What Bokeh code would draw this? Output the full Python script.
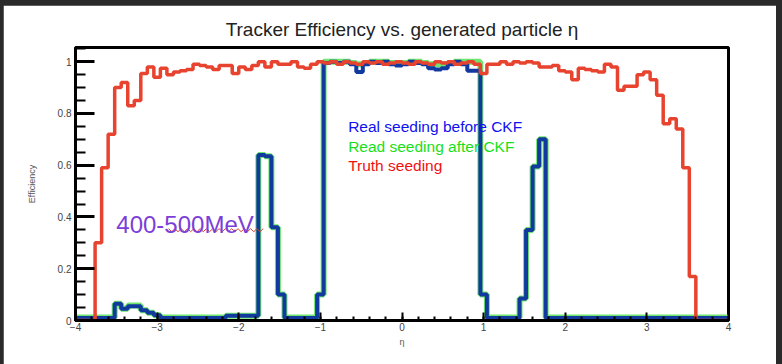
import numpy as np
from bokeh.plotting import figure
from bokeh.models import Label, Range1d, SingleIntervalTicker, NumeralTickFormatter
from bokeh.layouts import column
from bokeh.embed import file_html
from bokeh.resources import INLINE

# eta binning: 100 bins from -4 to 4
eta_edges = np.linspace(-4.0, 4.0, 101)

# Efficiency per eta bin
truth_seeding = [
    0.0, 0.0, 0.0, 0.30, 0.59, 0.72, 0.90, 0.92, 0.83, 0.85,
    0.955, 0.98, 0.94, 0.975, 0.95, 0.96, 0.965, 0.97, 0.99, 0.985,
    0.98, 0.97, 0.985, 0.985, 0.955, 0.98, 0.97, 0.985, 1.0, 0.98,
    1.0, 0.99, 0.99, 1.0, 0.98, 0.975, 0.99, 1.0, 0.995, 1.0,
    0.99, 1.0, 0.995, 0.99, 1.0, 0.995, 1.0, 0.99, 0.995, 1.0,
    0.995, 0.99, 1.0, 0.995, 0.99, 1.0, 0.995, 1.0, 0.99, 0.995,
    1.0, 0.99, 0.955, 0.99, 0.99, 1.0, 0.99, 1.0, 0.995, 1.0,
    0.995, 0.98, 0.98, 0.985, 0.965, 0.96, 0.93, 0.975, 0.97, 0.965,
    0.96, 0.99, 0.98, 0.89, 0.905, 0.905, 0.95, 0.96, 0.93, 0.87,
    0.76, 0.78, 0.74, 0.59, 0.17, 0.0, 0.0, 0.0, 0.0, 0.0,
]

real_before_ckf = [
    0.01, 0.01, 0.01, 0.01, 0.01, 0.01, 0.065, 0.045, 0.055, 0.055,
    0.04, 0.03, 0.02, 0.01, 0.01, 0.01, 0.01, 0.01, 0.01, 0.01,
    0.01, 0.01, 0.01, 0.018, 0.018, 0.018, 0.018, 0.018, 0.64, 0.635,
    0.36, 0.10, 0.01, 0.01, 0.01, 0.01, 0.01, 0.10, 0.995, 1.0,
    0.995, 1.0, 0.99, 0.96, 0.99, 1.0, 0.995, 1.0, 0.99, 0.985,
    0.99, 1.0, 0.995, 0.99, 0.975, 0.97, 0.975, 0.99, 1.0, 0.99,
    0.965, 0.965, 0.10, 0.01, 0.01, 0.01, 0.01, 0.01, 0.085, 0.35,
    0.595, 0.70, 0.01, 0.01, 0.01, 0.01, 0.01, 0.01, 0.01, 0.01,
    0.01, 0.01, 0.01, 0.01, 0.01, 0.01, 0.01, 0.01, 0.01, 0.01,
    0.01, 0.01, 0.01, 0.01, 0.01, 0.01, 0.01, 0.01, 0.01, 0.01,
]

real_after_ckf = [
    0.012, 0.012, 0.012, 0.012, 0.012, 0.012, 0.065, 0.045, 0.058, 0.058,
    0.04, 0.03, 0.02, 0.012, 0.012, 0.012, 0.012, 0.012, 0.012, 0.012,
    0.012, 0.012, 0.012, 0.018, 0.018, 0.018, 0.018, 0.018, 0.64, 0.635,
    0.36, 0.10, 0.012, 0.012, 0.012, 0.012, 0.012, 0.10, 1.0, 1.0,
    1.0, 1.0, 0.995, 0.99, 0.995, 1.0, 1.0, 1.0, 0.995, 0.995,
    0.995, 1.0, 1.0, 0.995, 0.99, 0.99, 0.99, 0.995, 1.0, 1.0,
    1.0, 1.0, 0.10, 0.012, 0.012, 0.012, 0.012, 0.012, 0.085, 0.35,
    0.595, 0.70, 0.012, 0.012, 0.012, 0.012, 0.012, 0.012, 0.012, 0.012,
    0.012, 0.012, 0.012, 0.012, 0.012, 0.012, 0.012, 0.012, 0.012, 0.012,
    0.012, 0.012, 0.012, 0.012, 0.012, 0.012, 0.012, 0.012, 0.012, 0.012,
]

legend_labels = ["Real seeding before CKF", "Read seeding after CKF", "Truth seeding"]
legend_colors = ["#1010f0", "#18e018", "#f01010"]
energy_label = "400-500MeV"

FONT = "Liberation Sans"

p = figure(
    frame_width=653, frame_height=273,
    min_border_left=72, min_border_right=48, min_border_top=42, min_border_bottom=44,
    x_range=Range1d(-4, 4), y_range=Range1d(0, 1.055),
    output_backend="svg", toolbar_location=None,
    background_fill_color="white", border_fill_color="white",
)
p.margin = (5, 6, 0, 3)

p.title.text = "Tracker Efficiency vs. generated particle \u03b7"
p.title.align = "center"
p.title.text_font = FONT
p.title.text_font_size = "19px"
p.title.text_font_style = "normal"
p.title.text_color = "#222222"
p.title.standoff = 15

p.xgrid.visible = False
p.ygrid.visible = False
p.outline_line_color = "black"
p.outline_line_width = 3
p.outline_line_alpha = 1.0

# ROOT-style axes: ticks pointing into the frame
p.xaxis.ticker = SingleIntervalTicker(interval=1, num_minor_ticks=5)
p.yaxis.ticker = SingleIntervalTicker(interval=0.2, num_minor_ticks=4)
p.yaxis.formatter = NumeralTickFormatter(format="0.[0]")
for ax in (p.xaxis[0], p.yaxis[0]):
    ax.axis_line_color = "black"
    ax.axis_line_width = 3
    ax.major_tick_out = 0
    ax.minor_tick_out = 0
    ax.major_tick_line_color = "black"
    ax.minor_tick_line_color = "black"
    ax.major_label_text_font = FONT
    ax.major_label_text_font_size = "10px"
    ax.major_label_text_color = "#444444"
    ax.axis_label_text_font = FONT
    ax.axis_label_text_font_size = "9px"
    ax.axis_label_text_font_style = "normal"
    ax.axis_label_text_color = "#555555"

p.xaxis.major_tick_in = 8
p.xaxis.minor_tick_in = 4
p.xaxis.major_tick_line_width = 2
p.xaxis.minor_tick_line_width = 2
p.xaxis.major_label_standoff = 2
p.xaxis.axis_label = "\u03b7"
p.xaxis.axis_label_standoff = 3

p.yaxis.major_tick_in = 19
p.yaxis.minor_tick_in = 10
p.yaxis.major_tick_line_width = 3
p.yaxis.minor_tick_line_width = 2
p.yaxis.major_label_standoff = 4
p.yaxis.axis_label = "Efficiency"
p.yaxis.axis_label_standoff = 18


def step_values(vals):
    return list(vals) + [vals[-1]]


# after CKF (drawn first so it shows as a halo), before CKF, truth
p.step(eta_edges, step_values(real_after_ckf), mode="after",
       line_color="#6fe46f", line_width=6)
p.step(eta_edges, step_values(real_before_ckf), mode="after",
       line_color="#123a9e", line_width=4)
p.step(eta_edges, step_values(truth_seeding), mode="after",
       line_color="#e8432f", line_width=3.5)

# colored text legend
for i, (txt, col) in enumerate(zip(legend_labels, legend_colors)):
    p.add_layout(Label(x=-0.66, y=0.748 - 0.074 * i, text=txt,
                       text_color=col, text_font=FONT, text_font_size="15.5px",
                       text_baseline="alphabetic"))

# momentum range annotation with its wavy underline
p.add_layout(Label(x=-3.50, y=0.372, text=energy_label, text_color="#7b3fd8",
                   text_font=FONT, text_font_size="24px",
                   text_baseline="alphabetic"))
wave_x = np.linspace(-2.86, -1.70, 31)
wave_y = 0.349 + 0.006 * np.where(np.arange(31) % 2 == 0, 1, -1)
p.line(wave_x, wave_y, line_color="#d8402f", line_width=1)

layout = column(p, styles={"background-color": "#2a2a2a"})

open("out.html", "w").write(file_html(layout, INLINE))
